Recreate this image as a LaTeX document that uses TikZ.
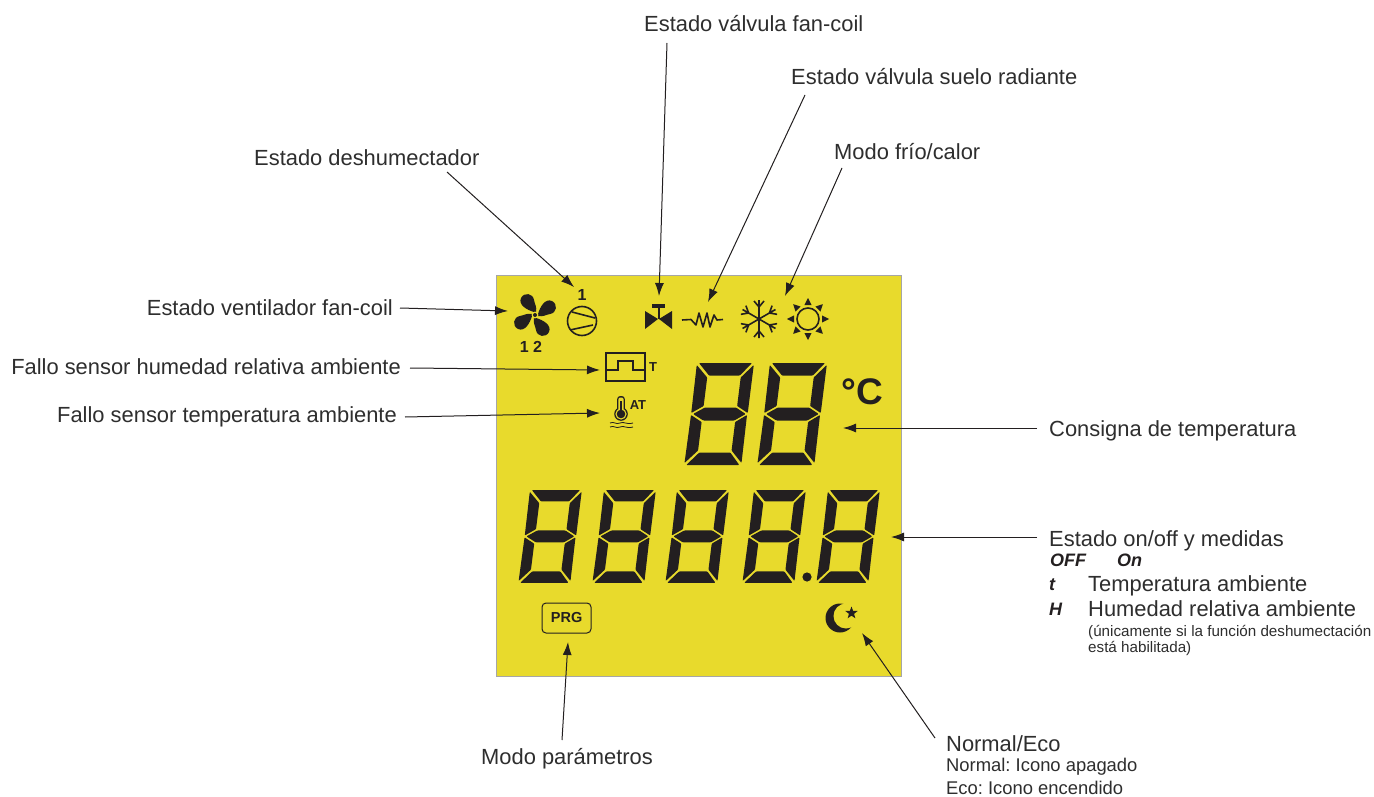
\documentclass[tikz,border=0pt]{standalone}
\usepackage{fontspec}
\setmainfont{Liberation Sans}
\usetikzlibrary{arrows.meta,shapes.geometric}
\definecolor{lcdyellow}{HTML}{E8DA2C}
\definecolor{lcdblack}{HTML}{231F20}
\definecolor{lbltext}{HTML}{2E2E2E}
\frenchspacing
\tikzset{
	lbl/.style={font=\fontsize{21.9}{25}\selectfont,text=lbltext,inner sep=0pt,text height=19pt,text depth=4pt},
	smalllbl/.style={font=\fontsize{18.4}{20}\selectfont,text=lbltext,inner sep=0pt,anchor=west},
	tinylbl/.style={font=\fontsize{15.2}{16}\selectfont,text=lbltext,inner sep=0pt,anchor=west},
	seglbl/.style={font=\fontsize{18}{20}\selectfont\bfseries\itshape,text=lcdblack,inner sep=0pt,anchor=west},
	icontext/.style={font=\fontsize{#1}{#1}\selectfont\bfseries,text=lcdblack,inner sep=0pt},
	callout/.style={draw=lcdblack,line width=1pt,-{Latex[length=13pt,width=9pt]}},
	iconline/.style={draw=lcdblack,line width=1.6pt},
}
% one skewed seven segment digit, #1 #2 top left corner, #3 scale
\newcommand{\lcddigit}[3]{
	\begin{scope}[shift={(#1,#2)},xslant=0.125,scale=#3]
		\fill[lcdblack,rounded corners=0.8pt]
			(2,0) -- (55,0) -- (44.5,12.5) -- (13.5,12.5) -- cycle
			(0,2) -- (12,14.5) -- (12,43) -- (0.5,50) -- cycle
			(57,2) -- (57,50) -- (45.5,43) -- (45.5,14.5) -- cycle
			(2.5,51) -- (13.5,44.5) -- (44.5,44.5) -- (55,51) -- (44.5,57.5) -- (13.5,57.5) -- cycle
			(0.5,52) -- (12,59) -- (12,87.5) -- (0,100) -- cycle
			(56.5,52) -- (57,100) -- (45.5,87.5) -- (45.5,59) -- cycle
			(2,102) -- (55,102) -- (44.5,89.5) -- (13.5,89.5) -- cycle;
	\end{scope}
}
\begin{document}
\begin{tikzpicture}[x=1pt,y=-1pt]
	\useasboundingbox (0,0) rectangle (1374,797);
	\fill[white] (0,0) rectangle (1374,797);
	\draw[fill=lcdyellow,draw=black!35,line width=0.8pt] (496,275) rectangle (901,676);

	\coordinate (tipDeshum) at (574,287);
	\coordinate (tipValve) at (659,296);
	\coordinate (tipFloor) at (708,302);
	\coordinate (tipMode) at (785,296);
	\coordinate (tipFan) at (508,311);
	\coordinate (tipHum) at (600,370);
	\coordinate (tipTemp) at (600,413);
	\coordinate (tipSet) at (843,428);
	\coordinate (tipState) at (891,537);
	\coordinate (tipPrg) at (568,642);
	\coordinate (tipEco) at (862,633);

	\node[lbl,anchor=west] (lblValve) at (644,24) {Estado válvula fan-coil};
	\node[lbl,anchor=west] (lblFloor) at (791,77) {Estado válvula suelo radiante};
	\node[lbl,anchor=west] (lblMode) at (834,152) {Modo frío/calor};
	\node[lbl,anchor=west] (lblDeshum) at (254,158) {Estado deshumectador};
	\node[lbl,anchor=east] (lblFan) at (393,308) {Estado ventilador fan-coil};
	\node[lbl,anchor=east] (lblHum) at (401,367) {Fallo sensor humedad relativa ambiente};
	\node[lbl,anchor=east] (lblTemp) at (397,415) {Fallo sensor temperatura ambiente};
	\node[lbl,anchor=west] (lblSet) at (1049,429) {Consigna de temperatura};
	\node[lbl,anchor=west] (lblState) at (1049,539) {Estado on/off y medidas};
	\node[lbl,anchor=west] (lblAmbT) at (1088,584) {Temperatura ambiente};
	\node[lbl,anchor=west] (lblAmbH) at (1088,609) {Humedad relativa ambiente};
	\node[tinylbl] (lblOnly) at (1088,632) {(únicamente si la función deshumectación};
	\node[tinylbl] (lblOnlyb) at (1088,648) {está habilitada)};
	\node[lbl,anchor=west] (lblPrg) at (481,757) {Modo parámetros};
	\node[lbl,anchor=west] (lblEco) at (946,744) {Normal/Eco};
	\node[smalllbl] (lblEcoa) at (946,767) {Normal: Icono apagado};
	\node[smalllbl] (lblEcob) at (946,788) {Eco: Icono encendido};
	\node[seglbl] (segOff) at (1050,560) {OFF};
	\node[seglbl] (segOn) at (1117,560) {On};
	\node[seglbl] (segT) at (1049,585) {t};
	\node[seglbl] (segH) at (1049,609) {H};

	\draw[callout] ([xshift=23pt,yshift=-19pt]lblValve.west) -- (tipValve);
	\draw[callout] ([xshift=14pt,yshift=-18pt]lblFloor.west) -- (tipFloor);
	\draw[callout] ([xshift=8pt,yshift=-16pt]lblMode.west) -- (tipMode);
	\draw[callout] ([xshift=193pt,yshift=-14pt]lblDeshum.west) -- (tipDeshum);
	\draw[callout] ([xshift=7pt]lblFan.east) -- (tipFan);
	\draw[callout] ([xshift=9pt,yshift=-1pt]lblHum.east) -- (tipHum);
	\draw[callout] ([xshift=8pt,yshift=-2pt]lblTemp.east) -- (tipTemp);
	\draw[callout] ([xshift=-12pt,yshift=1pt]lblSet.west) -- (tipSet);
	\draw[callout] ([xshift=-12pt,yshift=2pt]lblState.west) -- (tipState);
	\draw[callout] ([xshift=81pt,yshift=17pt]lblPrg.west) -- (tipPrg);
	\draw[callout] ([xshift=-11pt,yshift=6pt]lblEco.west) -- (tipEco);

	% digits
	\lcddigit{697}{363}{1}
	\lcddigit{770}{363}{1}
	\lcddigit{530}{490}{0.91}
	\lcddigit{604}{490}{0.91}
	\lcddigit{677}{490}{0.91}
	\lcddigit{754}{490}{0.91}
	\lcddigit{828}{490}{0.91}
	\fill[lcdblack] (807,577) circle (4.6);
	\node[icontext=37,anchor=center] (unitC) at (862,392) {°C};

	% fan
	\begin{scope}[shift={(535,315)}]
		\foreach \a in {0,90,180,270}
			\fill[lcdblack,rotate=\a] (-1,-3) .. controls (-8,-5) and (-17,-10) .. (-14,-17) .. controls (-11,-23) and (-2,-22) .. (-1,-15) .. controls (0,-10) and (2,-8) .. (1,-3) -- cycle;
		\fill[lcdyellow] (0,0) circle (3.4);
		\fill[lcdblack] (0,0) circle (2);
	\end{scope}
	\node[icontext=16] (fanNum) at (531,347) {1 2};

	% compressor
	\draw[iconline] (582,321) circle (14.5);
	\draw[iconline] (572,312) -- (595,318);
	\draw[iconline] (570,330) -- (593,325);
	\node[icontext=16] (compNum) at (582,295) {1};

	% valve
	\fill[lcdblack] (645,311) -- (658,319) -- (645,329) -- cycle;
	\fill[lcdblack] (672,311) -- (659,319) -- (672,329) -- cycle;
	\draw[lcdblack,line width=2pt] (658.5,305) -- (658.5,319);
	\fill[lcdblack] (652,303.5) rectangle (665,307.5);

	% resistor
	\draw[iconline,line join=round] (682,320) -- (691,319.5) -- (696,325) -- (699,313) -- (703,327) -- (707,313) -- (710,327) -- (714,315) -- (717,320) -- (723,319.5);

	% snowflake
	\begin{scope}[shift={(759,319)}]
		\foreach \a in {30,90,150,210,270,330}
			\draw[iconline,rotate=\a] (0,0) -- (19,0) (18,-5) -- (12,0) -- (18,5);
	\end{scope}

	% sun
	\begin{scope}[shift={(808,319)}]
		\draw[iconline] (0,0) circle (11);
		\foreach \a in {0,45,...,315}
			\fill[lcdblack,rotate=\a] (14,-3.6) -- (21,0) -- (14,3.6) -- cycle;
	\end{scope}

	% pulse box
	\draw[lcdblack,line width=2pt] (606,353) rectangle (645,381);
	\draw[lcdblack,line width=2pt] (606,370) -- (618,370) -- (618,361) -- (633,361) -- (633,370) -- (645,370);
	\node[icontext=13] (pulseT) at (653,367) {T};

	% thermometer
	\fill[lcdblack,rounded corners=3pt] (617.2,396) rectangle (624.8,414);
	\fill[lcdblack] (621,414) circle (6.8);
	\fill[lcdyellow,rounded corners=2pt] (618.4,397.5) rectangle (623.6,414);
	\fill[lcdyellow] (621,414) circle (5.6);
	\fill[lcdblack] (621,414) circle (4.3);
	\fill[lcdblack] (620,401) rectangle (622,414);
	\draw[lcdblack,line width=0.8pt] (610,423) .. controls (614,421) and (616,425) .. (620,423) .. controls (624,421) and (626,425) .. (633,423);
	\draw[lcdblack,line width=0.8pt] (610,427) .. controls (614,425) and (616,429) .. (620,427) .. controls (624,425) and (626,429) .. (633,427);
	\node[icontext=13] (thermAT) at (638,405) {AT};

	% prg box
	\draw[lcdblack,line width=1pt,rounded corners=4pt] (542,603) rectangle (591,633);
	\node[icontext=14.5] (prgTxt) at (566.7,618) {PRG};

	% moon
	\fill[lcdblack] (840,618) circle (14.5);
	\fill[lcdyellow] (846,616) circle (12.5);
	\node[star,star points=5,star point ratio=2.4,fill=lcdblack,inner sep=0pt,minimum size=13pt] (moonStar) at (851.5,613) {};
\end{tikzpicture}
\end{document}
